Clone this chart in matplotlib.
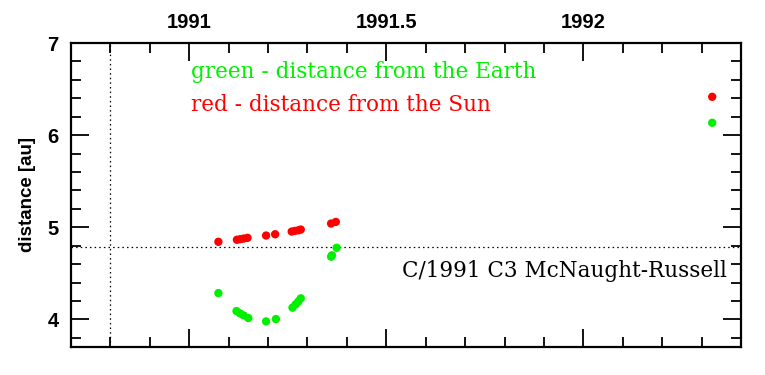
import matplotlib
matplotlib.use("Agg")
import matplotlib.pyplot as plt
from matplotlib.ticker import MultipleLocator, FixedLocator

# Data
sun_t = [1991.074, 1991.121, 1991.129, 1991.138, 1991.148, 1991.195, 1991.218,
         1991.260, 1991.268, 1991.277, 1991.283, 1991.360, 1991.372, 1992.327]
sun_d = [4.842, 4.864, 4.870, 4.877, 4.885, 4.910, 4.924,
         4.953, 4.960, 4.967, 4.975, 5.040, 5.058, 6.416]
earth_t = [1991.074, 1991.120, 1991.129, 1991.138, 1991.150, 1991.195, 1991.220,
           1991.262, 1991.270, 1991.277, 1991.283, 1991.360, 1991.362, 1991.374, 1992.327]
earth_d = [4.285, 4.090, 4.065, 4.043, 4.014, 3.978, 4.003,
           4.127, 4.163, 4.195, 4.228, 4.680, 4.695, 4.777, 6.134]
vline_t = 1990.8
hline_d = 4.79
x_major = [1991, 1991.5, 1992]
x_labels = ["1991", "1991.5", "1992"]
y_major = [4, 5, 6, 7]

fig = plt.figure(figsize=(7.65, 3.75), dpi=100)
ax = fig.add_axes([0.0928, 0.0747, 0.9686 - 0.0928, 0.8853 - 0.0747])

ax.scatter(sun_t, sun_d, s=36, color="#ff0000", edgecolors="none", zorder=3)
ax.scatter(earth_t, earth_d, s=36, color="#00f000", edgecolors="none", zorder=3)

ax.axvline(vline_t, color="black", lw=0.9, ls=(0, (1.2, 2.5)))
ax.axhline(hline_d, color="black", lw=0.9, ls=(0, (1.2, 2.5)))

ax.set_xlim(1990.7, 1992.4)
ax.set_ylim(3.7, 7.0)

ax.xaxis.set_major_locator(FixedLocator(x_major))
ax.xaxis.set_minor_locator(MultipleLocator(0.1))
ax.yaxis.set_major_locator(FixedLocator(y_major))
ax.yaxis.set_minor_locator(MultipleLocator(0.2))
ax.set_xticklabels(x_labels)

ax.tick_params(axis="x", which="both", direction="in", top=True, bottom=True,
               labeltop=True, labelbottom=False, width=1.3)
ax.tick_params(axis="y", which="both", direction="in", left=True, right=True, width=1.3)
ax.tick_params(which="major", length=13)
ax.tick_params(which="minor", length=7)
ax.tick_params(axis="x", pad=8)
ax.tick_params(axis="y", pad=9)
for lab in ax.get_xticklabels() + ax.get_yticklabels():
    lab.set_fontfamily("Liberation Sans")
    lab.set_fontweight("bold")
    lab.set_fontsize(14.5)

for sp in ax.spines.values():
    sp.set_linewidth(1.6)

ax.set_ylabel("distance [au]", fontsize=13.5, fontweight="bold",
              fontfamily="Liberation Sans", labelpad=8)

ax.text(1991.005, 6.68, "green - distance from the Earth", color="#00f000",
        fontsize=15.5, fontfamily="DejaVu Serif", va="center", ha="left")
ax.text(1991.005, 6.33, "red - distance from the Sun", color="#ff0000",
        fontsize=15.5, fontfamily="DejaVu Serif", va="center", ha="left")
ax.text(1992.363, 4.52, "C/1991 C3 McNaught-Russell", color="black",
        fontsize=15.5, fontfamily="DejaVu Serif", va="center", ha="right")

fig.savefig("out.png", dpi=100)
